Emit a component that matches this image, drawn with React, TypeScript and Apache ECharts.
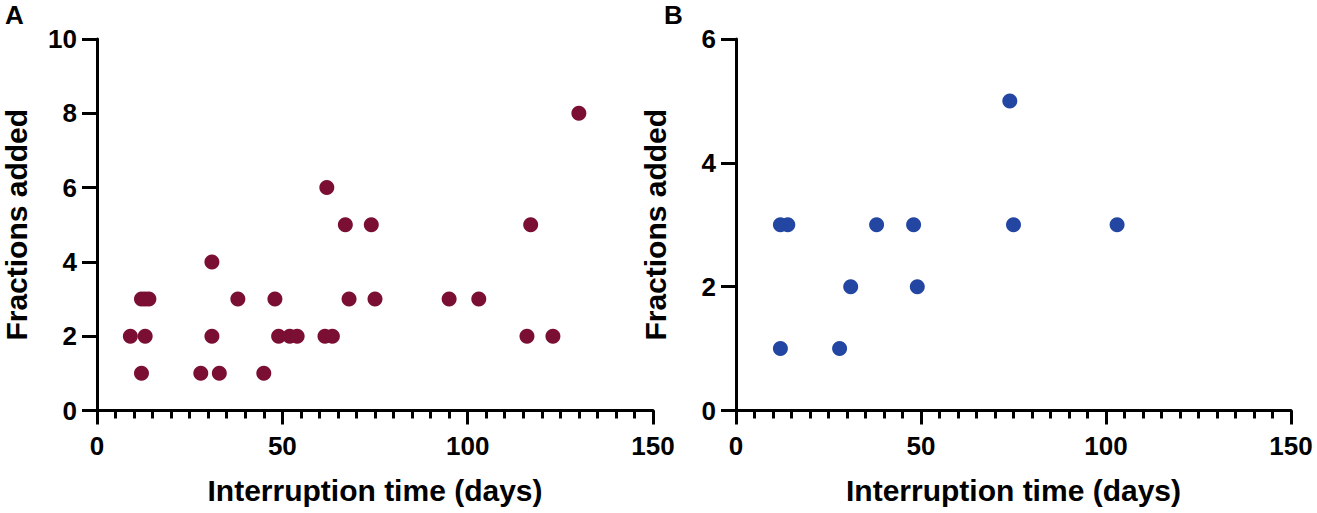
import React, { useEffect, useRef } from "react";
import * as echarts from "echarts";

// Panel A: interruption time (days) vs fractions added
const aDays = [9, 12, 12, 13, 14, 13, 28, 31, 31, 33, 38, 45, 48, 49, 52, 54, 62, 61.5, 63.5, 67, 68, 74, 75, 95, 103, 116, 117, 123, 130];
const aFractions = [2, 1, 3, 3, 3, 2, 1, 4, 2, 1, 3, 1, 3, 2, 2, 2, 6, 2, 2, 5, 3, 5, 3, 3, 3, 2, 5, 2, 8];

// Panel B
const bDays = [12, 12, 14, 28, 31, 38, 48, 49, 74, 75, 103];
const bFractions = [1, 3, 3, 1, 2, 3, 3, 2, 5, 3, 3];

const panelLabels = ["A", "B"];
const xTitle = "Interruption time (days)";
const yTitle = "Fractions added";
const colorA = "#7a0f33";
const colorB = "#2446a3";

const FONT = "'Liberation Sans', Arial, Helvetica, sans-serif";

function xAxisCfg(gridIndex: number) {
  return {
    type: "value" as const,
    gridIndex,
    min: 0,
    max: 150,
    interval: 50,
    name: xTitle,
    nameLocation: "middle" as const,
    nameGap: 65,
    nameTextStyle: { fontFamily: FONT, fontWeight: "bold", fontSize: 30, color: "#000" },
    axisLine: { show: true, lineStyle: { color: "#000", width: 3 } },
    axisTick: { show: true, length: 14, lineStyle: { color: "#000", width: 3 } },
    minorTick: { show: true, splitNumber: 10, length: 8, lineStyle: { color: "#000", width: 3 } },
    axisLabel: { fontFamily: FONT, fontWeight: "bold", fontSize: 26, color: "#000", margin: 22 },
    splitLine: { show: false },
  };
}

function yAxisCfg(gridIndex: number, max: number) {
  return {
    type: "value" as const,
    gridIndex,
    min: 0,
    max,
    interval: 2,
    name: yTitle,
    nameLocation: "middle" as const,
    nameGap: 67,
    nameRotate: 90,
    nameTextStyle: { fontFamily: FONT, fontWeight: "bold", fontSize: 30, lineHeight: 28, color: "#000" },
    axisLine: { show: true, lineStyle: { color: "#000", width: 3 } },
    axisTick: { show: true, length: 15, lineStyle: { color: "#000", width: 3 } },
    axisLabel: { fontFamily: FONT, fontWeight: "bold", fontSize: 26, color: "#000", margin: 20 },
    splitLine: { show: false },
  };
}

export default function App() {
  const ref = useRef<HTMLDivElement>(null);
  useEffect(() => {
    if (!ref.current) return;
    const chart = echarts.init(ref.current, undefined, { renderer: "svg" });
    chart.setOption({
      animation: false,
      backgroundColor: "#fff",
      title: [
        { text: panelLabels[0], left: 5, top: 2, padding: 0, textStyle: { fontFamily: FONT, fontWeight: "bold", fontSize: 26, color: "#000" } },
        { text: panelLabels[1], left: 664, top: 2, padding: 0, textStyle: { fontFamily: FONT, fontWeight: "bold", fontSize: 26, color: "#000" } },
      ],
      grid: [
        { left: 97, top: 39, width: 556, height: 371.5, containLabel: false, outerBoundsMode: "none" },
        { left: 736, top: 39, width: 555, height: 371.5, containLabel: false, outerBoundsMode: "none" },
      ],
      xAxis: [xAxisCfg(0), xAxisCfg(1)],
      yAxis: [yAxisCfg(0, 10), yAxisCfg(1, 6)],
      series: [
        {
          type: "scatter",
          xAxisIndex: 0,
          yAxisIndex: 0,
          symbolSize: 15,
          itemStyle: { color: colorA, opacity: 1 },
          data: aDays.map((d, i) => [d, aFractions[i]]),
        },
        {
          type: "scatter",
          xAxisIndex: 1,
          yAxisIndex: 1,
          symbolSize: 15,
          itemStyle: { color: colorB, opacity: 1 },
          data: bDays.map((d, i) => [d, bFractions[i]]),
        },
      ],
    });
    return () => chart.dispose();
  }, []);
  return (
    <div
      ref={ref}
      style={{ position: "absolute", left: 0, top: 0, width: 1317, height: 513 }}
    />
  );
}
